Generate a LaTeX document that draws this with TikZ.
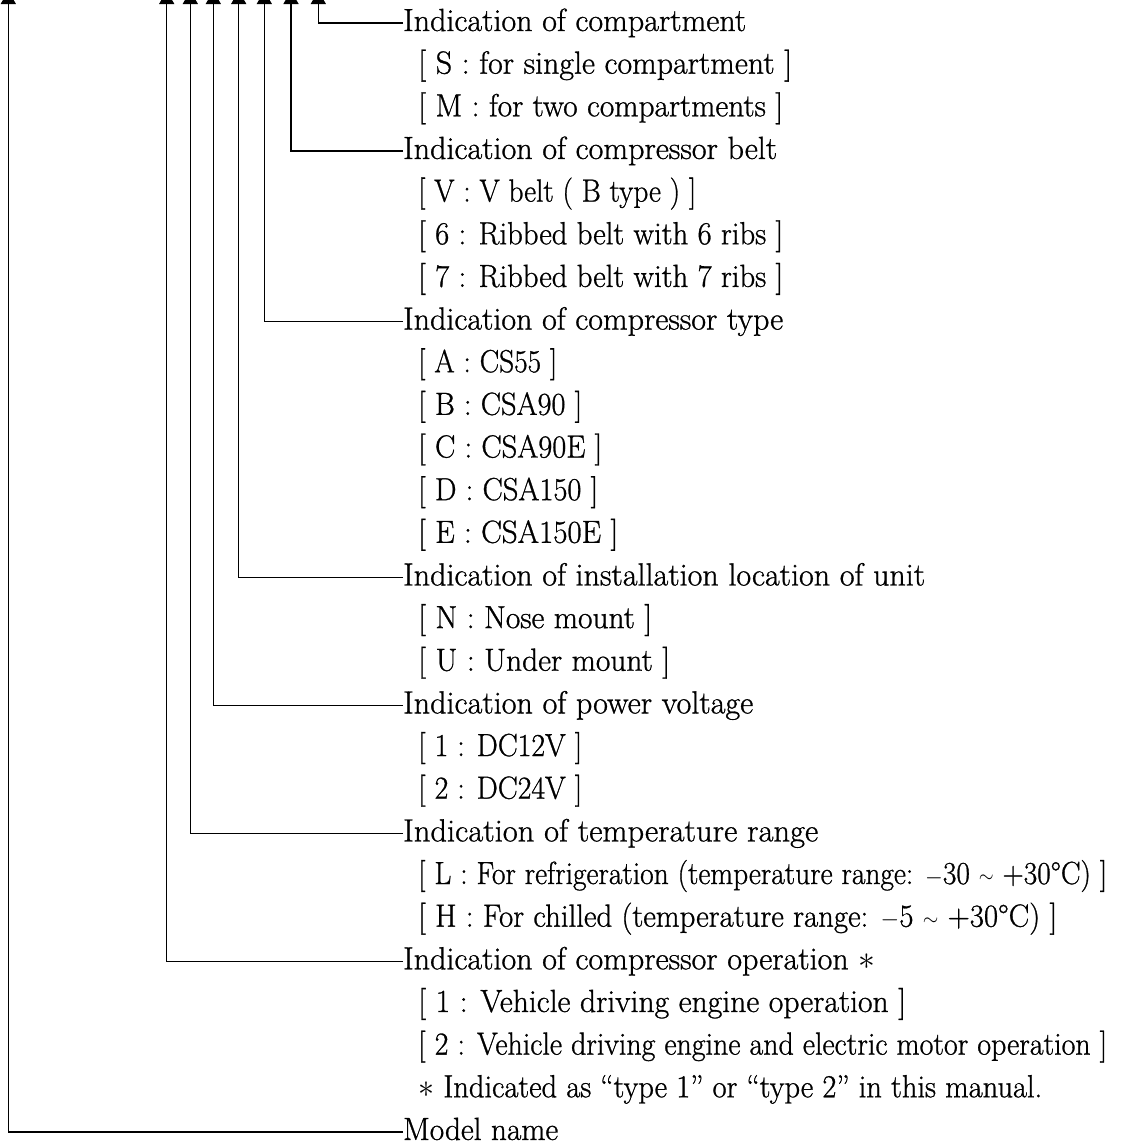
\documentclass[tikz,border=0pt]{standalone}
\usepackage{fontspec}
\usepackage{graphicx}
\usetikzlibrary{arrows.meta}
\newfontfamily\reffont{Latin Modern Roman}[FakeBold=0.9]
\newsavebox\fwbox
\newcommand\fw[2]{\sbox\fwbox{#2}\pgfmathsetmacro\fwfac{#1/\the\wd\fwbox}\scalebox{\fwfac}[1]{\usebox\fwbox}}
\newcommand\tl{\raisebox{0.05em}{\fontsize{20}{20}\selectfont$\sim$}}
\newcommand\refast{\scalebox{1.35}{$\ast$}}
\begin{document}
\begin{tikzpicture}[x=1pt,y=1pt,
  txt/.style={anchor=west, inner sep=0pt, text height=24pt, text depth=8pt, font=\reffont\fontsize{32}{40}\selectfont},
  conn/.style={line width=1.5pt, -{Triangle[width=15pt,length=13pt]}}]
\useasboundingbox (0,0) rectangle (1124,-1146);
\node[txt] (h1) at (403,-23.0) {\fw{343}{Indication of compartment}};
\node[txt] (s2) at (418,-65.65) {\fw{374}{[ S : for single compartment ]}};
\node[txt] (s3) at (418,-108.3) {\fw{365}{[ M : for two compartments ]}};
\node[txt] (h4) at (403,-150.95) {\fw{374}{Indication of compressor belt}};
\node[txt] (s5) at (418,-193.6) {\fw{278}{[ V : V belt ( B type ) ]}};
\node[txt] (s6) at (418,-236.25) {\fw{365}{[ 6 : Ribbed belt with 6 ribs ]}};
\node[txt] (s7) at (418,-278.9) {\fw{365}{[ 7 : Ribbed belt with 7 ribs ]}};
\node[txt] (h8) at (403,-321.55) {\fw{380}{Indication of compressor type}};
\node[txt] (s9) at (418,-364.2) {\fw{139}{[ A : CS55 ]}};
\node[txt] (s10) at (418,-406.85) {\fw{164}{[ B : CSA90 ]}};
\node[txt] (s11) at (418,-449.5) {\fw{184}{[ C : CSA90E ]}};
\node[txt] (s12) at (418,-492.15) {\fw{180}{[ D : CSA150 ]}};
\node[txt] (s13) at (418,-534.8) {\fw{200}{[ E : CSA150E ]}};
\node[txt] (h14) at (403,-577.45) {\fw{522}{Indication of installation location of unit}};
\node[txt] (s15) at (418,-620.1) {\fw{234}{[ N : Nose mount ]}};
\node[txt] (s16) at (418,-662.75) {\fw{252}{[ U : Under mount ]}};
\node[txt] (h17) at (403,-705.4) {\fw{350}{Indication of power voltage}};
\node[txt] (s18) at (418,-748.05) {\fw{164}{[ 1 : DC12V ]}};
\node[txt] (s19) at (418,-790.7) {\fw{164}{[ 2 : DC24V ]}};
\node[txt] (h20) at (403,-833.35) {\fw{415}{Indication of temperature range}};
\node[txt] (s21) at (418,-876.0) {\fw{689}{[ L : For refrigeration (temperature range: $-$30 \tl\ +30°C) ]}};
\node[txt] (s22) at (418,-918.65) {\fw{639}{[ H : For chilled (temperature range: $-$5 \tl\ +30°C) ]}};
\node[txt] (h23) at (403,-961.3) {\fw{472}{Indication of compressor operation \refast}};
\node[txt] (s24) at (418,-1003.95) {\fw{488}{[ 1 : Vehicle driving engine operation ]}};
\node[txt] (s25) at (418,-1046.6) {\fw{689}{[ 2 : Vehicle driving engine and electric motor operation ]}};
\node[txt] (s26) at (418,-1089.25) {\fw{624}{\refast\ Indicated as “type 1” or “type 2” in this manual.}};
\node[txt] (h27) at (403,-1131.9) {\fw{155}{Model name}};
\coordinate (t1) at (318.3,9);
\coordinate (t4) at (291,9);
\coordinate (t8) at (264.3,9);
\coordinate (t14) at (238.7,9);
\coordinate (t17) at (213.3,9);
\coordinate (t20) at (190.3,9);
\coordinate (t23) at (166.7,9);
\coordinate (t27) at (8.3,9);
\draw[conn] (h1.west) -| (t1);
\draw[conn] (h4.west) -| (t4);
\draw[conn] (h8.west) -| (t8);
\draw[conn] (h14.west) -| (t14);
\draw[conn] (h17.west) -| (t17);
\draw[conn] (h20.west) -| (t20);
\draw[conn] (h23.west) -| (t23);
\draw[conn] (h27.west) -| (t27);
\end{tikzpicture}
\end{document}
